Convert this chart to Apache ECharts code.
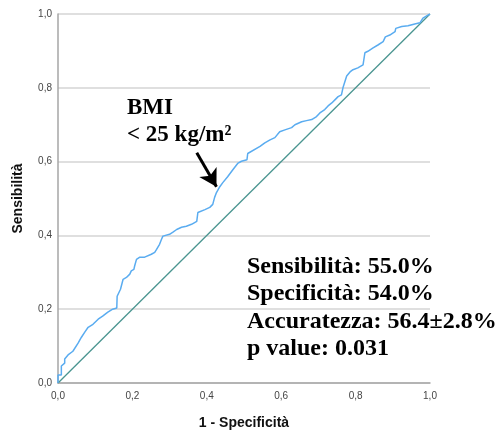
<!DOCTYPE html>
<html>
<head>
<meta charset="utf-8">
<script src="https://cdn.jsdelivr.net/npm/echarts@6/dist/echarts.min.js"></script>
<style>
  html, body { margin: 0; padding: 0; background: #fff; }
  #chart { width: 501px; height: 435px; }
</style>
</head>
<body>
<div id="chart"></div>
<script>
// ROC curve: 1 - specificity (false positive rate) vs sensitivity
const fpr = [0, 0, 0.009, 0.009, 0.018, 0.018, 0.027, 0.040, 0.054, 0.063, 0.072, 0.081, 0.094, 0.108, 0.120, 0.134, 0.147, 0.158, 0.159, 0.168, 0.175, 0.184, 0.193, 0.197, 0.204, 0.206, 0.211, 0.220, 0.233, 0.238, 0.251, 0.260, 0.265, 0.273, 0.278, 0.282, 0.300, 0.309, 0.319, 0.332, 0.345, 0.359, 0.373, 0.376, 0.395, 0.408, 0.416, 0.421, 0.426, 0.435, 0.443, 0.456, 0.470, 0.483, 0.493, 0.508, 0.510, 0.543, 0.556, 0.570, 0.583, 0.596, 0.610, 0.628, 0.637, 0.655, 0.668, 0.682, 0.695, 0.704, 0.717, 0.726, 0.736, 0.745, 0.753, 0.762, 0.766, 0.771, 0.776, 0.785, 0.793, 0.806, 0.820, 0.825, 0.833, 0.847, 0.860, 0.874, 0.880, 0.892, 0.906, 0.908, 0.924, 0.941, 0.959, 0.973, 0.981, 0.991, 1];
const tpr = [0, 0.022, 0.022, 0.046, 0.054, 0.065, 0.076, 0.086, 0.108, 0.124, 0.138, 0.151, 0.159, 0.173, 0.181, 0.192, 0.200, 0.203, 0.235, 0.254, 0.281, 0.286, 0.295, 0.304, 0.308, 0.317, 0.335, 0.341, 0.341, 0.344, 0.349, 0.354, 0.362, 0.376, 0.389, 0.398, 0.403, 0.409, 0.416, 0.422, 0.425, 0.430, 0.438, 0.462, 0.470, 0.476, 0.484, 0.503, 0.516, 0.532, 0.543, 0.559, 0.578, 0.595, 0.601, 0.605, 0.622, 0.641, 0.651, 0.659, 0.665, 0.681, 0.686, 0.692, 0.700, 0.708, 0.711, 0.714, 0.722, 0.732, 0.741, 0.751, 0.759, 0.768, 0.776, 0.781, 0.800, 0.805, 0.832, 0.843, 0.849, 0.854, 0.862, 0.895, 0.899, 0.908, 0.916, 0.925, 0.938, 0.943, 0.952, 0.961, 0.966, 0.968, 0.973, 0.976, 0.989, 0.995, 1];

// chance (reference) line
const refX = [0, 1];
const refY = [0, 1];

// arrow pointing at the curve: tail and head in data units
const arrowFrom = [0.373, 0.624];
const arrowTo = [0.426, 0.532];

const tickLabels = ['0,0', '0,2', '0,4', '0,6', '0,8', '1,0'];
const statsLines = ['Sensibilità: 55.0%', 'Specificità: 54.0%', 'Accuratezza: 56.4±2.8%', 'p value: 0.031'];

const zip = (a, b) => a.map((v, i) => [v, b[i]]);
const tickFmt = v => tickLabels[Math.round(v / 0.2)];

const chart = echarts.init(document.getElementById('chart'), null, { renderer: 'canvas' });

const axisCommon = {
  type: 'value', min: 0, max: 1, interval: 0.2,
  nameLocation: 'middle',
  nameTextStyle: { fontFamily: 'Liberation Sans', fontWeight: 'bold', fontSize: 14, color: '#111' },
  axisLabel: { formatter: tickFmt, fontFamily: 'Liberation Sans', fontSize: 10, color: '#444' },
  axisTick: { show: false },
  axisLine: { show: true, lineStyle: { color: '#a6a6a6', width: 1.5 } }
};

chart.setOption({
  animation: false,
  backgroundColor: '#fff',
  grid: { left: 58, right: 71, top: 14, bottom: 51, containLabel: false },
  xAxis: Object.assign({}, axisCommon, {
    name: '1 - Specificità', nameGap: 33,
    axisLabel: Object.assign({}, axisCommon.axisLabel, { margin: 8 }),
    splitLine: { show: false }
  }),
  yAxis: Object.assign({}, axisCommon, {
    name: 'Sensibilità', nameGap: 33, nameRotate: 90,
    axisLabel: Object.assign({}, axisCommon.axisLabel, { margin: 6 }),
    splitLine: { show: true, lineStyle: { color: '#d4d4d4', width: 1.5 } }
  }),
  series: [
    {
      type: 'line', name: 'Riferimento', data: zip(refX, refY),
      symbol: 'none', silent: true,
      lineStyle: { color: '#4a9590', width: 1.3 }
    },
    {
      type: 'line', name: 'BMI', data: zip(fpr, tpr),
      symbol: 'none',
      lineStyle: { color: '#5aacf0', width: 1.5 },
      markLine: {
        silent: true,
        symbol: ['none', 'arrow'],
        symbolSize: [15, 17],
        label: { show: false },
        lineStyle: { color: '#000', width: 3, type: 'solid' },
        data: [[{ coord: arrowFrom }, { coord: arrowTo }]]
      }
    }
  ],
  graphic: [
    {
      type: 'text', left: 127, top: 95,
      style: {
        text: 'BMI\n< 25 kg/m²',
        fontFamily: 'Liberation Serif', fontWeight: 'bold', fontSize: 23,
        lineHeight: 27, fill: '#000'
      }
    },
    {
      type: 'text', left: 247, top: 253,
      style: {
        text: statsLines.join('\n'),
        fontFamily: 'Liberation Serif', fontWeight: 'bold', fontSize: 24,
        lineHeight: 27.5, fill: '#000'
      }
    }
  ]
});
</script>
</body>
</html>
